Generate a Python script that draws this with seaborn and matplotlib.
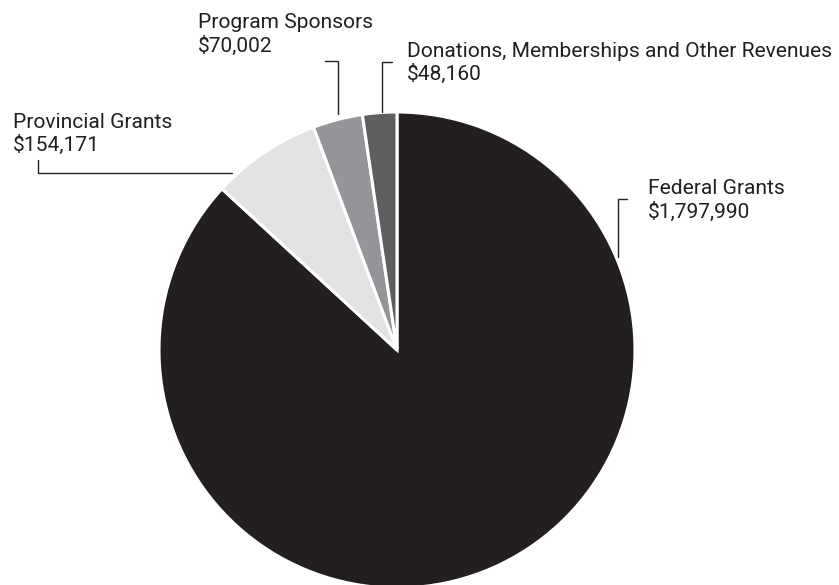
import matplotlib as mpl
import matplotlib.pyplot as plt
import seaborn as sns

sns.set_style('white')
plt.rcParams['font.family'] = ['Roboto', 'DejaVu Sans']
fs = 15.1

labels = ['Federal Grants', 'Provincial Grants', 'Program Sponsors',
          'Donations, Memberships and Other Revenues']
amounts = [1797990, 154171, 70002, 48160]
colors = ['#231f20', '#e1e2e3', '#939598', '#5f5f62']

W, H = 839, 585
fig = plt.figure(figsize=(W / 100, H / 100), dpi=100)
ax = fig.add_axes([0, 0, 1, 1])

# pie centre / radius in pixel units
cx, cy, r = 397, H - 350, 238
ax.pie(amounts, colors=colors, startangle=90, counterclock=False,
       center=(cx, cy), radius=r,
       wedgeprops=dict(edgecolor='white', linewidth=2.2))
ax.set_xlim(0, W)
ax.set_ylim(0, H)
ax.set_aspect('auto')
ax.axis('off')

# label text (left x, first baseline y in image pixels) and leader lines
label_pos = [(648, 194.5), (13, 127.5), (198, 28.5), (407, 56.7)]
leaders = [
    [(627, 199), (618, 199), (618, 257)],
    [(38, 160), (38, 173), (232, 173)],
    [(325, 61), (338, 61), (338, 114)],
    [(392, 62), (382, 62), (382, 112)],
]

for name, amt, (tx, ty), pts in zip(labels, amounts, label_pos, leaders):
    ax.text(tx, H - ty, name, fontsize=fs, color='#231f20', va='baseline', ha='left')
    ax.text(tx, H - ty - 23.5, '${:,}'.format(amt), fontsize=fs, color='#231f20',
            va='baseline', ha='left')
    xs = [p[0] for p in pts]
    ys = [H - p[1] for p in pts]
    ax.plot(xs, ys, color='#231f20', lw=1.0, solid_joinstyle='miter')

fig.savefig('out.png', dpi=100)
